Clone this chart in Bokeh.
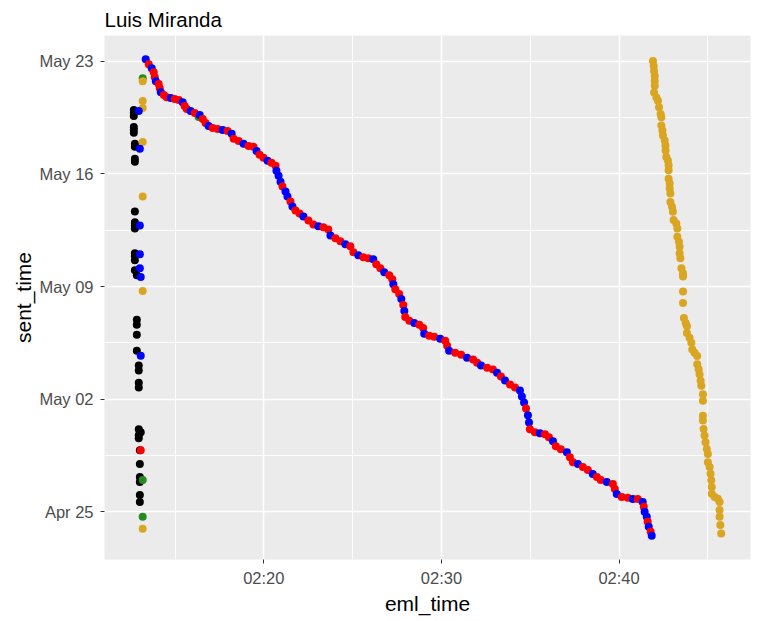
from bokeh.plotting import figure
from bokeh.models import FixedTicker, Range1d, ColumnDataSource
from bokeh.embed import file_html
from bokeh.resources import INLINE

# eml_time: minutes after 02:00 ; sent_time: days after Apr 25 00:00
main_eml = [13.35, 13.52, 13.69, 13.80, 13.86, 13.92, 14.08, 14.14, 14.20, 14.37,
            14.53, 14.76, 14.98, 15.21, 15.43, 15.54, 15.66, 15.88, 16.11, 16.39,
            16.56, 16.72, 16.89, 17.12, 17.40, 17.68, 17.96, 18.19, 18.30, 18.58,
            18.86, 19.14, 19.42, 19.59, 19.76, 19.98, 20.21, 20.43, 20.66, 20.71,
            20.83, 20.94, 21.05, 21.22, 21.33, 21.50, 21.61, 21.78, 22.01, 22.23,
            22.51, 22.79, 23.07, 23.35, 23.63, 23.75, 24.03, 24.31, 24.59, 24.87,
            25.04, 25.32, 25.60, 25.88, 26.16, 26.33, 26.56, 26.78, 27.06, 27.23,
            27.29, 27.40, 27.62, 27.74, 27.85, 27.91, 27.96, 28.19, 28.47, 28.75,
            28.97, 29.03, 29.31, 29.59, 29.93, 30.21, 30.32, 30.43, 30.77, 31.11,
            31.44, 31.78, 32.01, 32.23, 32.57, 32.90, 33.13, 33.35, 33.58, 33.86,
            34.14, 34.42, 34.53, 34.65, 34.76, 34.87, 34.93, 34.98, 35.26, 35.54,
            35.83, 36.05, 36.28, 36.44, 36.72, 37.06, 37.23, 37.40, 37.68, 37.96,
            38.24, 38.52, 38.75, 38.97, 39.31, 39.65, 39.76, 39.87, 40.15, 40.49,
            40.77, 41.05, 41.33, 41.39, 41.44, 41.56, 41.61, 41.67, 41.78, 41.84]
main_sent = [28.12, 27.81, 27.56, 27.32, 27.01, 26.76, 26.58, 26.33, 26.08, 25.90,
             25.77, 25.71, 25.65, 25.59, 25.46, 25.22, 25.03, 24.91, 24.78, 24.66,
             24.41, 24.17, 23.98, 23.86, 23.79, 23.73, 23.67, 23.49, 23.18, 23.05,
             22.87, 22.74, 22.68, 22.43, 22.19, 22.00, 21.82, 21.69, 21.51, 21.20,
             20.89, 20.52, 20.21, 19.90, 19.59, 19.28, 18.97, 18.73, 18.54, 18.36,
             18.11, 17.86, 17.74, 17.68, 17.55, 17.18, 17.00, 16.81, 16.63, 16.50,
             16.13, 15.95, 15.82, 15.76, 15.70, 15.39, 15.14, 14.89, 14.71, 14.46,
             14.15, 13.84, 13.54, 13.23, 12.86, 12.48, 12.11, 11.87, 11.74, 11.62,
             11.43, 11.06, 10.94, 10.88, 10.75, 10.63, 10.32, 10.01, 9.89, 9.77,
             9.58, 9.46, 9.27, 9.09, 8.96, 8.84, 8.65, 8.41, 8.16, 7.91,
             7.73, 7.54, 7.17, 6.80, 6.43, 6.00, 5.56, 5.13, 4.94, 4.88,
             4.82, 4.64, 4.39, 4.08, 3.89, 3.71, 3.40, 3.09, 2.97, 2.78,
             2.60, 2.35, 2.16, 1.98, 1.85, 1.73, 1.42, 1.11, 0.93, 0.87,
             0.80, 0.80, 0.62, 0.31, 0.00, -0.31, -0.62, -0.93, -1.24, -1.48]
main_kind = list("brbrrbrrbr" "rbrrbrrbrb" "rrbrrbrbrr" "brrbrrbrrb" "bbrbbrbrrb"
                 "rrbrrbrrbr" "rbrrbrrbrr" "brrbrbrrbr" "rbrrbrrbrr" "brrbrrbrbr"
                 "rbbbrbbrrb" "rrbrrbrrbr" "rbrrbrrbrr" "brbrbbrbrb")

black_eml = [12.68, 12.68, 12.68, 12.68, 12.68, 12.68,
             12.74, 12.74, 12.74, 12.74, 12.74, 12.74, 12.74, 12.74, 12.74, 12.74, 12.74, 12.74,
             12.85, 12.85, 12.85, 12.85, 12.85,
             12.96, 12.96, 12.96, 12.96, 12.96, 13.07, 12.96, 12.96,
             13.02, 13.02, 13.02, 13.02, 13.02, 13.02]
black_sent = [24.97, 24.78, 24.60, 23.92, 23.73, 23.55,
              22.87, 22.68, 21.94, 21.76, 18.67, 17.99, 17.80, 17.61, 16.07, 15.88, 15.64, 15.02,
              14.71, 11.93, 11.62, 11.00, 10.01,
              9.09, 8.78, 8.03, 7.73, 5.13, 4.94, 4.76, 4.57,
              3.83, 2.97, 2.16, 1.85, 1.05, 0.62]

blue_eml = [12.96, 13.02, 13.02, 13.02, 13.02, 13.07, 13.07]
blue_sent = [24.91, 22.56, 17.80, 16.01, 15.14, 14.59, 9.70]

red_eml = [13.07]
red_sent = [3.83]

green_eml = [13.18, 13.18, 13.18, 16.33]
green_sent = [26.95, 1.98, -0.31, 24.54]

gold_eml = [13.18, 13.18, 13.18, 13.18, 13.18, 13.18, 13.18,
            41.91, 41.95, 41.97, 42.01, 42.01, 42.01, 41.97, 42.10, 42.19, 42.25,
            42.34, 42.38, 42.38, 42.44, 42.47, 42.57, 42.61, 42.62, 42.66, 42.75,
            42.79, 42.79, 42.79, 42.85, 42.85, 42.89, 42.89, 42.98, 43.03, 43.07,
            43.22, 43.28, 43.28, 43.37, 43.41, 43.41, 43.45, 43.51, 43.60, 43.60,
            43.60, 43.60, 43.65, 43.75, 43.82, 43.82, 43.97, 44.07, 44.12, 44.25,
            44.40, 44.40, 44.48, 44.53, 44.59, 44.63, 44.72, 44.72, 44.72, 44.72,
            44.76, 44.81, 44.87, 44.94, 45.00, 45.00, 45.10, 45.15, 45.19, 45.22,
            45.22, 45.38, 45.56, 45.66, 45.66, 45.66, 45.70, 45.75]
gold_sent = [26.76, 25.53, 25.09, 22.99, 19.59, 13.72, -1.05,
             28.02, 27.71, 27.40, 27.09, 26.78, 26.47, 26.06, 25.75, 25.54, 25.14,
             24.72, 24.52, 24.00, 23.69, 23.38, 23.07, 22.76, 22.45, 22.05, 21.84,
             21.53, 21.22, 20.70, 20.40, 20.09, 19.78, 19.26, 18.96, 18.65, 18.13,
             17.92, 17.61, 17.10, 16.79, 16.48, 16.07, 15.76, 15.14, 14.83, 14.63,
             13.70, 12.98, 12.05, 11.74, 11.54, 11.12, 10.82, 10.51, 10.09, 9.89,
             9.68, 9.17, 8.86, 8.55, 8.14, 7.83, 7.31, 6.90, 5.98, 5.67,
             5.15, 4.74, 4.33, 3.91, 3.60, 3.09, 2.78, 2.37, 1.96, 1.55,
             1.13, 0.93, 0.82, 0.62, 0.11, -0.31, -0.82, -1.34]

x_ticks = [20, 30, 40]
x_tick_labels = ["02:20", "02:30", "02:40"]
x_minor = [15, 25, 35, 45]
y_ticks = [0, 7, 14, 21, 28]
y_tick_labels = ["Apr 25", "May 02", "May 09", "May 16", "May 23"]
y_minor = [3.5, 10.5, 17.5, 24.5]

kind_colors = {"r": "#FF0000", "b": "#0000FF"}

FONT = "Liberation Sans"

p = figure(width=756, height=617, output_backend="svg", toolbar_location=None,
           x_range=Range1d(11.03, 47.40), y_range=Range1d(-2.96, 29.60),
           title="Luis Miranda", x_axis_label="eml_time", y_axis_label="sent_time",
           min_border_left=104, min_border_right=6, min_border_top=35, min_border_bottom=54)
p.background_fill_color = "#EBEBEB"
p.border_fill_color = "white"
p.outline_line_color = None

p.title.text_font = FONT
p.title.text_font_size = "20.5px"
p.title.text_font_style = "normal"
p.title.text_color = "black"
p.title.align = "left"
p.title.standoff = 9

p.xaxis.ticker = FixedTicker(ticks=x_ticks, minor_ticks=x_minor)
p.yaxis.ticker = FixedTicker(ticks=y_ticks, minor_ticks=y_minor)
p.xaxis.major_label_overrides = {t: l for t, l in zip(x_ticks, x_tick_labels)}
p.yaxis.major_label_overrides = {t: l for t, l in zip(y_ticks, y_tick_labels)}

for ax in (p.xaxis[0], p.yaxis[0]):
    ax.axis_line_color = None
    ax.major_tick_line_color = "#333333"
    ax.major_tick_out = 4
    ax.major_tick_in = 0
    ax.minor_tick_line_color = None
    ax.major_label_text_font = FONT
    ax.major_label_text_font_size = "16.5px"
    ax.major_label_text_color = "#4D4D4D"
    ax.axis_label_text_font = FONT
    ax.axis_label_text_font_size = "21px"
    ax.axis_label_text_font_style = "normal"
    ax.axis_label_text_color = "black"

p.xaxis[0].major_label_standoff = 5
p.xaxis[0].axis_label_standoff = 2
p.yaxis[0].major_label_standoff = 7
p.yaxis[0].axis_label_standoff = 1

for g in (p.xgrid[0], p.ygrid[0]):
    g.grid_line_color = "white"
    g.grid_line_width = 1.6
    g.minor_grid_line_color = "white"
    g.minor_grid_line_width = 0.9

S = 8
p.scatter(black_eml, black_sent, size=S, fill_color="#000000", line_color=None)
p.scatter(green_eml, green_sent, size=S, fill_color="#228B22", line_color=None)
p.scatter(gold_eml, gold_sent, size=S, fill_color="#DAA520", line_color=None)
p.scatter(blue_eml, blue_sent, size=S, fill_color="#0000FF", line_color=None)
p.scatter(red_eml, red_sent, size=S, fill_color="#FF0000", line_color=None)

src = ColumnDataSource(dict(x=main_eml, y=main_sent,
                            c=[kind_colors[k] for k in main_kind]))
p.scatter("x", "y", source=src, size=S, fill_color="c", line_color=None)

open("out.html", "w").write(file_html(p, INLINE))
